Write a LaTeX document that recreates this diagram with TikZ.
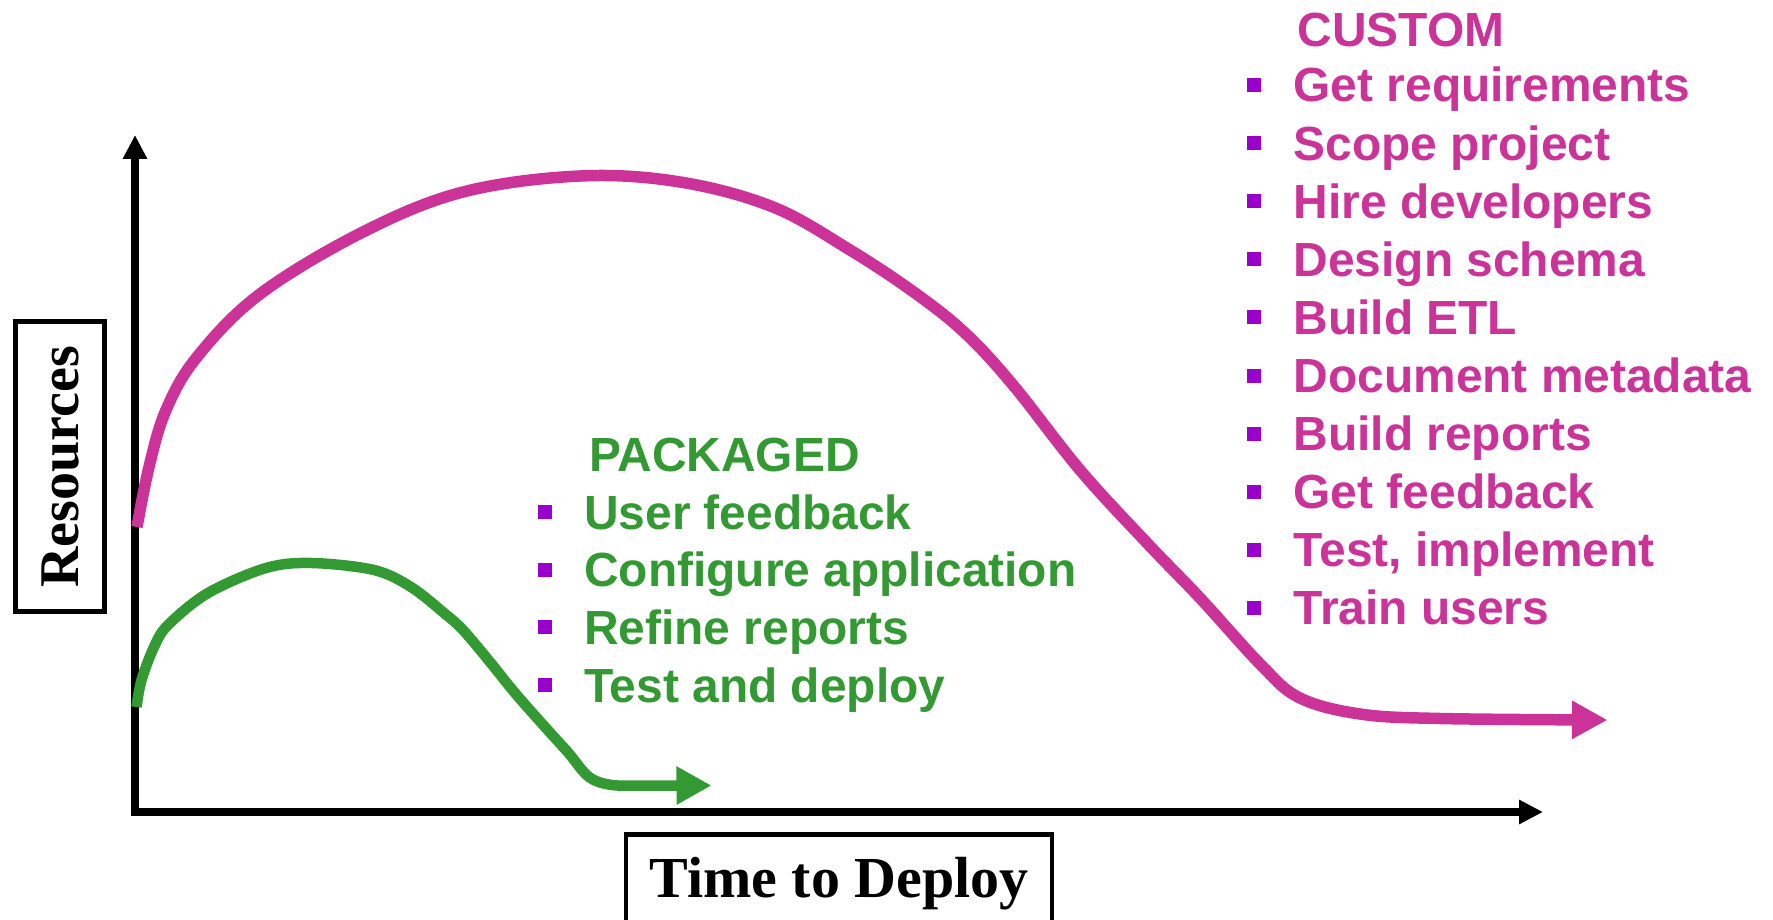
\documentclass[tikz,border=0pt]{standalone}
\usepackage{fontspec}
\setmainfont{Liberation Serif}
\newfontfamily\lsans{Liberation Sans}
\usetikzlibrary{arrows.meta}
\definecolor{cmag}{RGB}{204,51,153}
\definecolor{cgreen}{RGB}{51,153,51}
\definecolor{cpurple}{RGB}{153,0,204}
\begin{document}
\begin{tikzpicture}[x=1pt,y=-1pt,
  itemtext/.style={anchor=base west, inner sep=0pt, font=\lsans\bfseries\fontsize{47.9}{57}\selectfont},
  bul/.style={fill=cpurple, minimum size=14pt, inner sep=0pt, draw=none},
  axisline/.style={line width=7.5pt, line join=miter, {Triangle[length=24pt,width=23pt]}-{Triangle[length=24pt,width=23pt]}},
  labelbox/.style={draw, line width=4.5pt},
  seriflabel/.style={inner sep=0pt, anchor=base, font=\bfseries\fontsize{58}{64}\selectfont},
  curvemag/.style={cmag, line width=11.5pt, -{Triangle[length=35.5pt,width=36pt]}},
  curvegreen/.style={cgreen, line width=10.5pt, -{Triangle[length=35pt,width=36pt]}}]
\useasboundingbox (0,0) rectangle (1773,920);
\clip (0,0) rectangle (1773,920);
\fill[white] (0,0) rectangle (1773,920);

% axes
\coordinate (ytip) at (135,135);
\coordinate (origin) at (135,812);
\coordinate (xtip) at (1543,812);
\draw[axisline] (ytip) -- (origin) -- (xtip);

% label boxes
\draw[labelbox] (15.5,321.5) rectangle (104.5,611.5);
\node[seriflabel, rotate=90, font=\bfseries\fontsize{56}{64}\selectfont] (res) at (78,467) {Resources};
\draw[labelbox] (626,834.5) rectangle (1052,960);
\node[seriflabel] (ttd) at (839,897) {Time to Deploy};

% custom curve
\draw[curvemag] plot[smooth, tension=0.6] coordinates {
  (137,527) (149,467) (166,410) (197,357) (260,294) (363,232)
  (463,192) (580,176) (680,182) (773,207) (850,250) (915,293)
  (965,333) (1013,385) (1080,470) (1147,543) (1200,598) (1262,666)
  (1300,698) (1360,714) (1440,718.5) (1607.5,720)};

% packaged curve
\draw[curvegreen] plot[smooth, tension=0.55] coordinates {
  (136.5,707) (141.5,680) (154,647) (168,625) (208,593) (266,568)
  (311.5,563) (374,570) (411,587) (444,613) (463,630) (490,662) (515,693)
  (545,727) (568.5,753) (589,777) (612,785) (650,785.5) (711.5,785.5)};

% custom list
\node[itemtext, cmag] (custom) at (1297.5,47) {CUSTOM};
\foreach \t [count=\i from 0] in {Get requirements, Scope project, Hire developers,
  Design schema, Build ETL, Document metadata, Build reports, Get feedback,
  {Test, implement}, Train users} {
  \pgfmathsetmacro\yb{102+58.1*\i}
  \node[bul] (cb\i) at (1254,\yb-17) {};
  \node[itemtext, cmag] (ct\i) at (1293.5,\yb) {\t};
}

% packaged list
\node[itemtext, cgreen] (packaged) at (589,471) {PACKAGED};
\foreach \t [count=\i from 0] in {User feedback, Configure application,
  Refine reports, Test and deploy} {
  \pgfmathsetmacro\yb{529+57.7*\i}
  \node[bul] (gb\i) at (545,\yb-17) {};
  \node[itemtext, cgreen] (gt\i) at (584,\yb) {\t};
}
\end{tikzpicture}
\end{document}
